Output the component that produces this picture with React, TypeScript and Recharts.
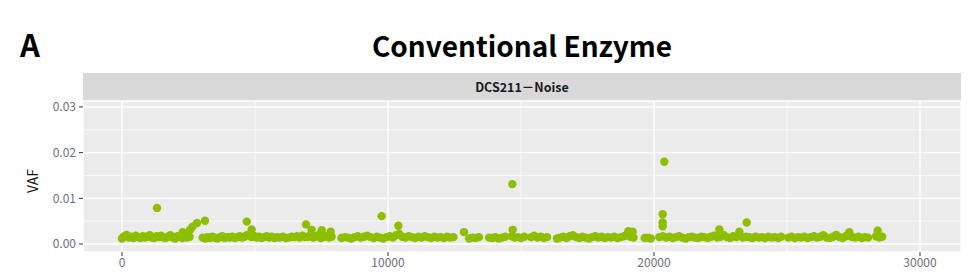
import { CartesianGrid, ReferenceLine, Scatter, ScatterChart, XAxis, YAxis } from "recharts"

const xTicks = [0, 10000, 20000, 30000]
const yTicks = [0, 0.01, 0.02, 0.03]
const xMinor = [5000, 15000, 25000]
const yMinor = [0.005, 0.015, 0.025]

// [position, VAF] along the baseline
const baseline: [number, number][] = [
    [0, 0.0012], [90, 0.0017], [170, 0.002], [260, 0.0014], [340, 0.0016], [430, 0.0013], [520, 0.0018],
    [600, 0.0015], [690, 0.0013], [780, 0.0017], [860, 0.0014], [950, 0.0016], [1040, 0.0019], [1120, 0.0014],
    [1210, 0.0013], [1300, 0.0017], [1390, 0.0015], [1470, 0.0018], [1560, 0.0014], [1650, 0.0013], [1730, 0.0016],
    [1820, 0.0019], [1910, 0.0014], [2000, 0.0012], [2090, 0.0017], [2180, 0.0015], [2270, 0.0013], [2360, 0.0018],
    [2450, 0.0014], [2540, 0.0016],
    [3030, 0.0014], [3120, 0.0012], [3210, 0.0015], [3300, 0.0013], [3400, 0.0016], [3490, 0.0014], [3580, 0.0012],
    [3680, 0.0015], [3770, 0.0017], [3860, 0.0013], [3960, 0.0015], [4050, 0.0014], [4140, 0.0016], [4240, 0.0013],
    [4330, 0.0015], [4420, 0.0017], [4510, 0.0014], [4600, 0.0016], [4690, 0.0019], [4780, 0.0021], [4870, 0.0015],
    [4960, 0.0018], [5060, 0.0014], [5150, 0.0016], [5250, 0.0013], [5340, 0.0015], [5440, 0.0017], [5530, 0.0014],
    [5630, 0.0016], [5730, 0.0013], [5830, 0.0015], [5930, 0.0014], [6050, 0.0016], [6160, 0.0013], [6270, 0.0014],
    [6380, 0.0016], [6480, 0.0015], [6580, 0.0017], [6680, 0.0014], [6780, 0.0018], [6880, 0.0015], [6980, 0.0016],
    [7080, 0.002], [7180, 0.0014], [7280, 0.0016], [7380, 0.0019], [7480, 0.0013], [7580, 0.0015], [7680, 0.0017],
    [7780, 0.0014], [7880, 0.0016],
    [8250, 0.0013], [8380, 0.0015], [8500, 0.0014], [8620, 0.0012], [8740, 0.0015], [8860, 0.0017], [8980, 0.0014],
    [9100, 0.0016], [9220, 0.0018], [9340, 0.0015], [9460, 0.0013], [9580, 0.0016], [9700, 0.0014], [9820, 0.0012],
    [9940, 0.0015], [10060, 0.0017], [10180, 0.0014], [10300, 0.0019], [10420, 0.0022], [10540, 0.0016],
    [10660, 0.0014], [10780, 0.0017], [10900, 0.0015], [11020, 0.0013], [11140, 0.0016], [11260, 0.0014],
    [11380, 0.0017], [11500, 0.0015], [11620, 0.0013], [11740, 0.0016], [11860, 0.0014], [11980, 0.0015],
    [12100, 0.0013], [12220, 0.0016], [12340, 0.0014], [12460, 0.0015],
    [13050, 0.0012], [13180, 0.0014], [13300, 0.0013], [13420, 0.0015],
    [13800, 0.0014], [13920, 0.0013], [14040, 0.0015], [14160, 0.0012], [14280, 0.0014], [14400, 0.0016],
    [14650, 0.0017], [14760, 0.0014], [14880, 0.0015], [15000, 0.0013], [15120, 0.0016],
    [15380, 0.0015], [15500, 0.0018], [15620, 0.0014], [15740, 0.0016], [15860, 0.0013], [15980, 0.0015],
    [16350, 0.0012], [16470, 0.0014], [16590, 0.0016], [16710, 0.0013], [16830, 0.0017], [16950, 0.0019],
    [17070, 0.0015], [17190, 0.0013], [17310, 0.0016], [17430, 0.0014], [17550, 0.0012], [17670, 0.0015],
    [17790, 0.0017], [17910, 0.0014], [18030, 0.0016], [18150, 0.0013], [18270, 0.0015], [18390, 0.0014],
    [18510, 0.0016], [18630, 0.0013], [18750, 0.0015], [18870, 0.0017], [18990, 0.0021], [19110, 0.0016],
    [19230, 0.0014],
    [19650, 0.0013], [19780, 0.0014], [19880, 0.0012],
    [20200, 0.0015], [20330, 0.0017], [20460, 0.0014], [20580, 0.0016], [20700, 0.0013], [20820, 0.0015],
    [20940, 0.0017], [21060, 0.0014], [21180, 0.0012], [21300, 0.0015], [21420, 0.0016], [21540, 0.0014],
    [21660, 0.0013], [21780, 0.0016], [21900, 0.0015], [22020, 0.0013], [22140, 0.0016], [22260, 0.0018],
    [22380, 0.0014], [22500, 0.0016], [22620, 0.002], [22740, 0.0015], [22860, 0.0013], [22980, 0.0017],
    [23100, 0.0015], [23220, 0.0019], [23340, 0.0014], [23460, 0.0016], [23580, 0.0015], [23700, 0.0013],
    [23820, 0.0016], [23940, 0.0014], [24060, 0.0015], [24180, 0.0013], [24300, 0.0016], [24420, 0.0014],
    [24540, 0.0015], [24660, 0.0013], [24780, 0.0016],
    [25050, 0.0014], [25170, 0.0016], [25290, 0.0013], [25410, 0.0015], [25530, 0.0014], [25650, 0.0016],
    [25770, 0.0013], [25890, 0.0015], [26010, 0.0017], [26130, 0.0014], [26250, 0.0016], [26370, 0.0019],
    [26490, 0.0014], [26610, 0.0013], [26730, 0.0016], [26850, 0.002], [26970, 0.0015], [27090, 0.0013],
    [27210, 0.0017], [27330, 0.0019], [27450, 0.0015], [27570, 0.0014], [27690, 0.0016], [27810, 0.0013],
    [27930, 0.0015], [28050, 0.0014], [28350, 0.0017], [28470, 0.0014], [28580, 0.0016],
]

// raised points above the noise floor
const raised: [number, number][] = [
    [1316, 0.0079], [2280, 0.0026], [2560, 0.0031], [2650, 0.0038], [2820, 0.0046], [3120, 0.0051],
    [4690, 0.0049], [4875, 0.0032], [6917, 0.0043], [7130, 0.0031], [7507, 0.003], [7845, 0.0027],
    [9762, 0.0061], [10388, 0.004], [12857, 0.0026], [14674, 0.0131], [14687, 0.0031],
    [19035, 0.0028], [19200, 0.0027], [20327, 0.0065], [20327, 0.0047], [20327, 0.0039], [20388, 0.018],
    [22456, 0.0032], [23207, 0.0027], [23484, 0.0047], [27342, 0.0026], [28410, 0.0029],
]

const points = [...baseline, ...raised].map(([pos, vaf]) => ({ pos, vaf }))

const dot = (props: any) => <circle cx={props.cx} cy={props.cy} r={4.2} fill="#8DBE00" />

const font = "'Noto Sans CJK SC', sans-serif"

export default function App() {
    return (
        <div style={{ position: "absolute", left: 0, top: 0, width: 976, height: 277, background: "#fff", fontFamily: font }}>
            <div style={{ position: "absolute", left: 20, top: 24, fontSize: 31, fontWeight: 700, lineHeight: "40px" }}>A</div>
            <div style={{ position: "absolute", left: 83, width: 878, top: 25, textAlign: "center", fontSize: 28, fontWeight: 700, lineHeight: "40px" }}>
                Conventional Enzyme
            </div>
            <div style={{ position: "absolute", left: 83, width: 878, top: 73, height: 28, background: "#D9D9D9", textAlign: "center", fontSize: 12.5, fontWeight: 700, lineHeight: "28px", color: "#1A1A1A" }}>
                DCS211－Noise
            </div>
            <div style={{ position: "absolute", left: 32, top: 181, transform: "translate(-50%, -50%) rotate(-90deg)", fontSize: 14, color: "#1A1A1A" }}>
                VAF
            </div>
            <ScatterChart width={976} height={277} margin={{ top: 101, right: 15, bottom: 0, left: 40 }} style={{ fontFamily: font }}>
                <CartesianGrid fill="#EBEBEB" stroke="#FFFFFF" strokeWidth={1.4} />
                {xMinor.map((v) => (
                    <ReferenceLine key={`x${v}`} x={v} stroke="#FFFFFF" strokeWidth={0.7} />
                ))}
                {yMinor.map((v) => (
                    <ReferenceLine key={`y${v}`} y={v} stroke="#FFFFFF" strokeWidth={0.7} />
                ))}
                <XAxis
                    type="number"
                    dataKey="pos"
                    domain={[-1466, 31541]}
                    ticks={xTicks}
                    allowDataOverflow
                    axisLine={false}
                    tickSize={4}
                    tickLine={{ stroke: "#333333" }}
                    tick={{ fill: "#6E6E7C", fontSize: 12 }}
                    height={25}
                />
                <YAxis
                    type="number"
                    dataKey="vaf"
                    domain={[-0.00175, 0.0313]}
                    ticks={yTicks}
                    allowDataOverflow
                    axisLine={false}
                    tickSize={4}
                    tickMargin={3}
                    tickLine={{ stroke: "#333333" }}
                    tick={{ fill: "#6E6E7C", fontSize: 12 }}
                    tickFormatter={(v: number) => v.toFixed(2)}
                    width={43}
                />
                <Scatter data={points} shape={dot} isAnimationActive={false} />
            </ScatterChart>
        </div>
    )
}
